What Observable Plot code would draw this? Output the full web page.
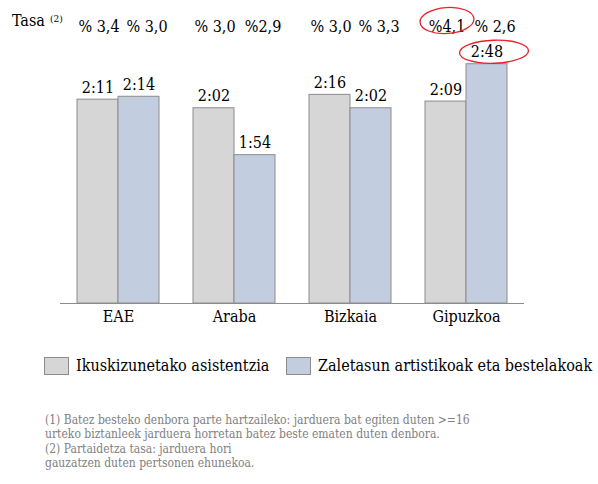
<!DOCTYPE html>
<html><head><meta charset="utf-8">
<script src="https://cdn.jsdelivr.net/npm/d3@7"></script>
<script src="https://cdn.jsdelivr.net/npm/@observablehq/plot@0.6"></script>
<style>
body{margin:0;background:#fff;font-family:"DejaVu Serif Condensed","DejaVu Serif",serif;color:#000;}
#wrap{position:relative;width:598px;height:484px;overflow:hidden;}
#chart{position:absolute;left:0;top:0;}
.abs{position:absolute;white-space:nowrap;}
#tasa{left:12px;top:11px;font-size:16px;line-height:20px;}
#tasa sup{font-size:10px;position:relative;top:-2px;vertical-align:top;margin-left:5px;}
.sw{position:absolute;width:23px;height:16px;border:1px solid #8c8c8c;}
.lg{font-size:16px;line-height:20px;}
.note{font-size:12px;line-height:13.5px;color:#808080;}
</style></head><body>
<div id="wrap">
  <div id="chart"></div>
  <div id="tasa" class="abs">Tasa<sup>(2)</sup></div>
  <div id="legend"></div>
  <div id="notes"></div>
</div>
<script>
// ---- data ----
const categories = ["EAE", "Araba", "Bizkaia", "Gipuzkoa"];
const series = ["Ikuskizunetako asistentzia", "Zaletasun artistikoak eta bestelakoak"];
// bar lengths in minutes
const attendanceMinutes = [131, 122, 136, 129];
const hobbyMinutes = [134, 73, 122, 168];
// printed value labels
const attendanceLabels = ["2:11", "2:02", "2:16", "2:09"];
const hobbyLabels = ["2:14", "1:54", "2:02", "2:48"];
// participation rates (2)
const attendanceRates = ["% 3,4", "% 3,0", "% 3,0", "%4,1"];
const hobbyRates = ["% 3,0", "%2,9", "% 3,3", "% 2,6"];
const highlightedCategory = "Gipuzkoa";
const notes = [
  ["(1) Batez besteko denbora parte hartzaileko: jarduera bat egiten duten >=16",
   "urteko biztanleek jarduera horretan batez beste ematen duten denbora."],
  ["(2) Partaidetza tasa: jarduera hori",
   "gauzatzen duten pertsonen ehunekoa."]
];

const colors = ["#d6d6d6", "#c3cde0"];
const edge = "#8c8c8c";

const rows = [];
categories.forEach((c, i) => {
  rows.push({cat: c, series: series[0], value: attendanceMinutes[i], label: attendanceLabels[i], rate: attendanceRates[i]});
  rows.push({cat: c, series: series[1], value: hobbyMinutes[i], label: hobbyLabels[i], rate: hobbyRates[i]});
});
const s0 = rows.filter(d => d.series === series[0]);
const s1 = rows.filter(d => d.series === series[1]);
const hl0 = s0.filter(d => d.cat === highlightedCategory);
const hl1 = s1.filter(d => d.cat === highlightedCategory);

function ellipseSymbol(rx, ry) {
  const k = 0.5523;
  return {draw(ctx) {
    ctx.moveTo(rx, 0);
    ctx.bezierCurveTo(rx, ry * k, rx * k, ry, 0, ry);
    ctx.bezierCurveTo(-rx * k, ry, -rx, ry * k, -rx, 0);
    ctx.bezierCurveTo(-rx, -ry * k, -rx * k, -ry, 0, -ry);
    ctx.bezierCurveTo(rx * k, -ry, rx, -ry * k, rx, 0);
    ctx.closePath();
  }};
}

const yFloor = -82;
const font = '"DejaVu Serif Condensed","DejaVu Serif",serif';

const chart = Plot.plot({
  width: 598, height: 335,
  marginLeft: 60, marginRight: 74, marginTop: 40, marginBottom: 32,
  style: {fontFamily: font, fontSize: "16px", background: "transparent"},
  fx: {domain: categories, padding: 0, axis: null},
  x: {domain: series, paddingInner: 0, paddingOuter: 0.4, axis: null},
  y: {domain: [yFloor, 192.8], axis: null},
  color: {domain: series, range: colors},
  marks: [
    Plot.barY(rows, {fx: "cat", x: "series", y1: yFloor, y2: "value", fill: "series", stroke: edge, strokeWidth: 1}),
    Plot.ruleY([yFloor], {stroke: edge, strokeWidth: 1.2}),
    Plot.text(rows, {fx: "cat", x: "series", y: "value", text: "label", dy: -12, fontSize: 16, fill: "#000"}),
    Plot.text(s0, {fx: "cat", x: "series", frameAnchor: "top", text: "rate", dy: -20, dx: 1, fontSize: 16, fill: "#000"}),
    Plot.text(s1, {fx: "cat", x: "series", frameAnchor: "top", text: "rate", dy: -20, dx: 8, fontSize: 16, fill: "#000"}),
    Plot.text(categories, {fx: d => d, frameAnchor: "bottom", text: d => d, dy: 18, fontSize: 16, fill: "#000"}),
    Plot.dot(hl0, {fx: "cat", x: "series", frameAnchor: "top", dy: -20, dx: 1, symbol: ellipseSymbol(27, 13), rotate: -4, fill: "none", stroke: "#e8202a", strokeWidth: 1.3}),
    Plot.dot(hl1, {fx: "cat", x: "series", y: "value", dy: -12.5, dx: 7, symbol: ellipseSymbol(34.5, 11.5), rotate: -2, fill: "none", stroke: "#e8202a", strokeWidth: 1.3})
  ]
});
document.getElementById("chart").appendChild(chart);

// legend
const legend = document.getElementById("legend");
const lgPos = [{sx: 44, tx: 76}, {sx: 286, tx: 318}];
series.forEach((s, i) => {
  const sw = document.createElement("div");
  sw.className = "sw";
  sw.style.left = lgPos[i].sx + "px";
  sw.style.top = "357px";
  sw.style.background = colors[i];
  legend.appendChild(sw);
  const t = document.createElement("div");
  t.className = "abs lg";
  t.style.left = lgPos[i].tx + "px";
  t.style.top = "356px";
  t.textContent = s;
  legend.appendChild(t);
});

// footnotes
const notesEl = document.getElementById("notes");
const noteTops = [414, 443];
notes.forEach((lines, i) => {
  const d = document.createElement("div");
  d.className = "abs note";
  d.style.left = "45px";
  d.style.top = noteTops[i] + "px";
  d.innerHTML = lines.join("<br>");
  notesEl.appendChild(d);
});
</script>
</body></html>
